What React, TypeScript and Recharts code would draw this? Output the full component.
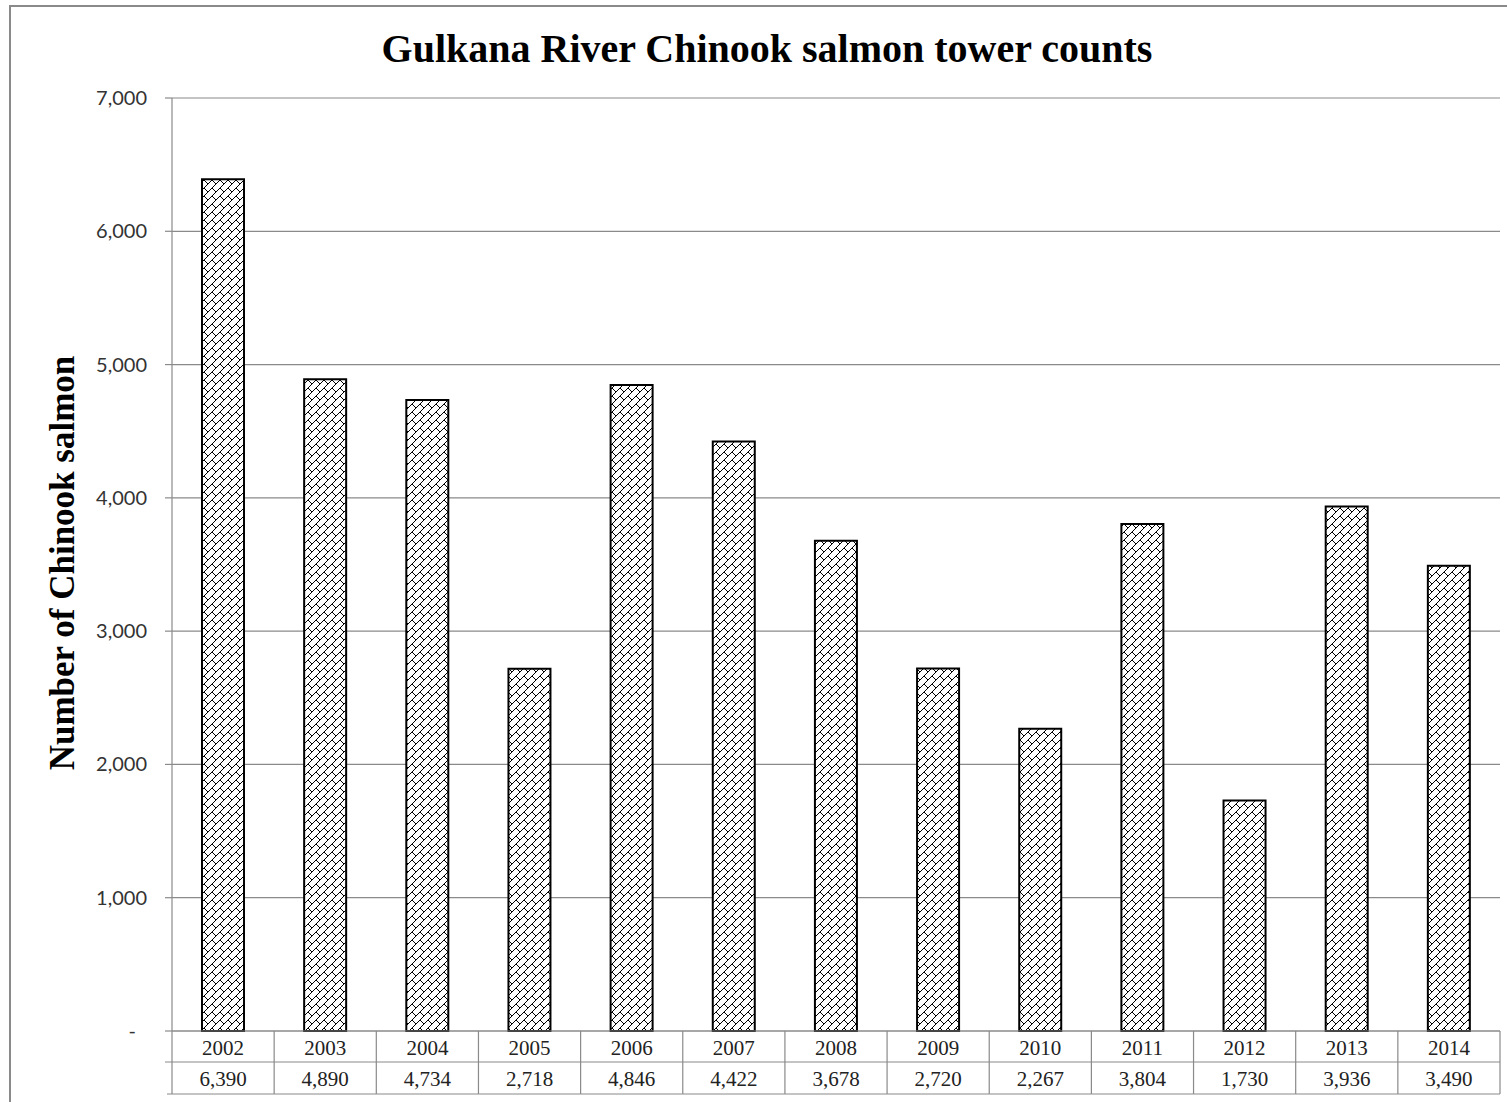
import React from 'react';
import { BarChart, Bar, XAxis, YAxis, CartesianGrid } from 'recharts';

const years = ['2002', '2003', '2004', '2005', '2006', '2007', '2008', '2009', '2010', '2011', '2012', '2013', '2014'];
const counts = [6390, 4890, 4734, 2718, 4846, 4422, 3678, 2720, 2267, 3804, 1730, 3936, 3490];
const yTicks = [0, 1000, 2000, 3000, 4000, 5000, 6000, 7000];

const data = years.map((year, i) => ({ year, count: counts[i] }));

const GRAY = '#8a8a8a';
const fmt = (v: number) => v.toLocaleString('en-US');

const YTick = (props: any) => {
  const { x, y, payload } = props;
  const v = payload.value;
  return (
    <text
      x={v === 0 ? x - 11 : x}
      y={y}
      dy={7}
      textAnchor="end"
      fontFamily="Lato, 'Liberation Sans', sans-serif"
      fontSize={20}
      fill="#333"
    >
      {v === 0 ? '-' : fmt(v)}
    </text>
  );
};

const TableTick = (props: any) => {
  const { x, y, payload, index } = props;
  const off = payload && payload.offset ? payload.offset : 1328 / 13 / 2;
  const left = x - off;
  const right = x + off;
  const isFirst = index === 0;
  const isLast = index === years.length - 1;
  const value = counts[index];
  return (
    <g>
      <line x1={left} y1={y} x2={left} y2={y + 63} stroke={GRAY} strokeWidth={1.2} />
      {isLast && <line x1={right} y1={y} x2={right} y2={y + 63} stroke={GRAY} strokeWidth={1.2} />}
      <line x1={isFirst ? left - 7 : left} y1={y + 31} x2={right} y2={y + 31} stroke={GRAY} strokeWidth={1.2} />
      <line x1={isFirst ? left - 5 : left} y1={y + 63} x2={right} y2={y + 63} stroke={GRAY} strokeWidth={1.2} />
      <text x={x} y={y + 24} textAnchor="middle" fontFamily="'Liberation Serif', serif" fontSize={21} fill="#222">
        {payload.value}
      </text>
      <text x={x} y={y + 55} textAnchor="middle" fontFamily="'Liberation Serif', serif" fontSize={21} fill="#222">
        {fmt(value)}
      </text>
    </g>
  );
};

export default function App() {
  return (
    <div
      style={{
        position: 'fixed',
        left: 0,
        top: 0,
        width: 1507,
        height: 1102,
        overflow: 'hidden',
        background: '#fff',
      }}
    >
      <div
        style={{
          position: 'absolute',
          left: 9,
          top: 5,
          width: 1560,
          height: 1160,
          border: `2px solid ${GRAY}`,
          boxSizing: 'border-box',
        }}
      />
      <div style={{ position: 'absolute', left: 0, top: 0 }}>
        <BarChart
          width={1507}
          height={1102}
          data={data}
          margin={{ top: 98, right: 7, left: 72, bottom: 8 }}
        >
          <defs>
            <pattern id="brick" patternUnits="userSpaceOnUse" width={8} height={8}>
              <rect x={0} y={0} width={8} height={8} fill="#fff" />
              <line x1={-1} y1={9} x2={9} y2={-1} stroke="#000" strokeWidth={1} />
              <line x1={4} y1={4} x2={8} y2={8} stroke="#000" strokeWidth={1} />
            </pattern>
          </defs>
          <CartesianGrid vertical={false} stroke={GRAY} strokeWidth={1.2} />
          <YAxis
            domain={[0, 7000]}
            ticks={yTicks}
            interval={0}
            width={100}
            axisLine={{ stroke: GRAY, strokeWidth: 1.2 }}
            tickLine={{ stroke: GRAY, strokeWidth: 1.2 }}
            tickSize={7}
            tickMargin={18}
            tick={<YTick />}
          />
          <XAxis
            dataKey="year"
            height={63}
            interval={0}
            axisLine={{ stroke: GRAY, strokeWidth: 1.2 }}
            tickLine={false}
            tickSize={0}
            tickMargin={0}
            tick={<TableTick />}
          />
          <Bar
            dataKey="count"
            barSize={42}
            fill="url(#brick)"
            stroke="#000"
            strokeWidth={2}
            isAnimationActive={false}
          />
        </BarChart>
      </div>
      <svg
        width={1507}
        height={1102}
        style={{ position: 'absolute', left: 0, top: 0, pointerEvents: 'none' }}
      >
        <text
          x={767}
          y={62}
          textAnchor="middle"
          fontFamily="'Liberation Serif', 'Times New Roman', serif"
          fontWeight="bold"
          fontSize={40}
          fill="#000"
        >
          Gulkana River Chinook salmon tower counts
        </text>
        <text
          transform="translate(74,563) rotate(-90)"
          textAnchor="middle"
          fontFamily="'Liberation Serif', 'Times New Roman', serif"
          fontWeight="bold"
          fontSize={35}
          fill="#000"
        >
          Number of Chinook salmon
        </text>
      </svg>
    </div>
  );
}
